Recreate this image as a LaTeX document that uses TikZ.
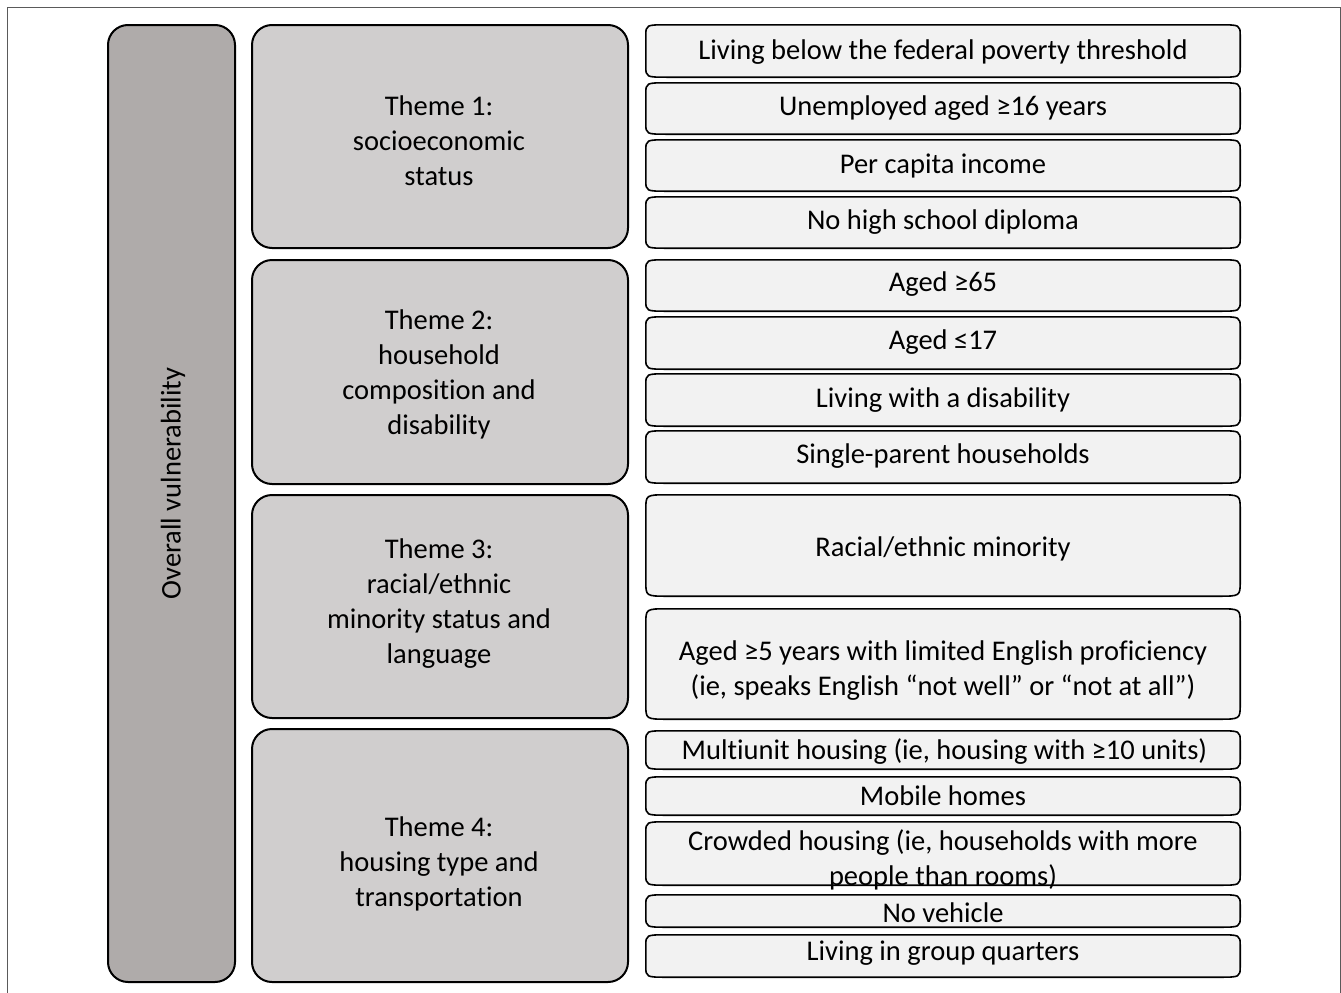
\documentclass[tikz,border=0pt]{standalone}
\usepackage{fontspec}
\setmainfont{Carlito}[Ligatures={NoCommon}]
\definecolor{ovfill}{HTML}{AFABAA}
\definecolor{thfill}{HTML}{D0CECE}
\definecolor{itfill}{HTML}{F2F2F2}
\definecolor{framecol}{HTML}{5A5A5A}
\newcommand\itemshape[3]{%
  \path[itemline] ([yshift=-#3]#1.north west) .. controls (#1.north west) .. ([xshift=#2]#1.north west)
    -- ([xshift=-#2]#1.north east) .. controls (#1.north east) .. ([yshift=-#3]#1.north east)
    -- ([yshift=#3]#1.south east) .. controls (#1.south east) .. ([xshift=-#2]#1.south east)
    -- ([xshift=#2]#1.south west) .. controls (#1.south west) .. ([yshift=#3]#1.south west) -- cycle;}
\tikzset{
  bigbox/.style={draw=black, line width=2pt, rounded corners=20pt, inner sep=0pt},
  ovbox/.style={bigbox, fill=ovfill, minimum width=127pt},
  thbox/.style={bigbox, fill=thfill, minimum width=376pt},
  itembox/.style={draw=none, inner sep=0pt, minimum width=594pt},
  itemline/.style={draw=black, line width=1.6pt, fill=itfill},
  txt/.style={font=\fontsize{28.5}{35}\selectfont, align=center, inner sep=0pt, text=black, yshift=-2.5pt}
}
\begin{document}
\begin{tikzpicture}[x=1pt,y=-1pt]
\useasboundingbox (0,0) rectangle (1341,993);
\fill[white] (0,0) rectangle (1341,993);
\draw[framecol, line width=1pt] (7.5,995) -- (7.5,7.5) -- (1340,7.5) -- (1340,995);

% overall box
\node[ovbox, minimum height=957pt] (ov) at (171.5,503.5) {};
\node[txt, rotate=90, yshift=0pt, xshift=1pt] (ovt) at (173,482) {Overall vulnerability};

% theme boxes
\node[thbox, minimum height=223pt] (t1) at (440,136.5) {};
\node[thbox, minimum height=224pt] (t2) at (440,372) {};
\node[thbox, minimum height=223pt] (t3) at (440,606.5) {};
\node[thbox, minimum height=253pt] (t4) at (440,855.5) {};
\node[txt] (t1t) at (439,138) {Theme 1:\\socioeconomic\\status};
\node[txt] (t2t) at (439,371.5) {Theme 2:\\household\\composition and\\disability};
\node[txt] (t3t) at (439,601.5) {Theme 3:\\racial/ethnic\\minority status and\\language};
\node[txt] (t4t) at (439,861) {Theme 4:\\housing type and\\transportation};

% item boxes
\node[itembox, minimum height=52pt] (b1) at (943,51) {};
\node[itembox, minimum height=51pt] (b2) at (943,108.5) {};
\node[itembox, minimum height=51pt] (b3) at (943,165.5) {};
\node[itembox, minimum height=51pt] (b4) at (943,222.5) {};
\node[itembox, minimum height=51pt] (b5) at (943,285.5) {};
\node[itembox, minimum height=52pt] (b6) at (943,343) {};
\node[itembox, minimum height=52pt] (b7) at (943,400) {};
\node[itembox, minimum height=52pt] (b8) at (943,457) {};
\node[itembox, minimum height=101pt] (b9) at (943,545.5) {};
\node[itembox, minimum height=110pt] (b10) at (943,664) {};
\node[itembox, minimum height=38pt] (b11) at (943,750) {};
\node[itembox, minimum height=38pt] (b12) at (943,796) {};
\node[itembox, minimum height=63pt] (b13) at (943,853.5) {};
\node[itembox, minimum height=32pt] (b14) at (943,911) {};
\node[itembox, minimum height=42pt] (b15) at (943,956) {};
\foreach \n in {b1,b2,b3,b4,b5,b6,b7,b8,b11,b12,b13,b14,b15} {\itemshape{\n}{22pt}{11pt}}
\itemshape{b9}{22pt}{15pt}
\itemshape{b10}{22pt}{15pt}

\node[txt] (r1) at (943,50) {Living below the federal poverty threshold};
\node[txt] (r2) at (943,106) {Unemployed aged ≥16 years};
\node[txt] (r3) at (943,163) {Per capita income};
\node[txt] (r4) at (943,220) {No high school diploma};
\node[txt] (r5) at (943,282) {Aged ≥65};
\node[txt] (r6) at (943,340) {Aged ≤17};
\node[txt] (r7) at (943,398) {Living with a disability};
\node[txt] (r8) at (943,454) {Single-parent households};
\node[txt] (r9) at (943,546) {Racial/ethnic minority};
\node[txt] (r10) at (943,668) {Aged ≥5 years with limited English proficiency\\(ie, speaks English “not well” or “not at all”)};
\node[txt] (r11) at (944.5,749) {Multiunit housing (ie, housing with ≥10 units)};
\node[txt] (r12) at (943,793) {Mobile homes};
\node[txt] (r13) at (943,857) {Crowded housing (ie, households with more\\people than rooms)};
\node[txt] (r14) at (943,910) {No vehicle};
\node[txt] (r15) at (943,951) {Living in group quarters};
\end{tikzpicture}
\end{document}
